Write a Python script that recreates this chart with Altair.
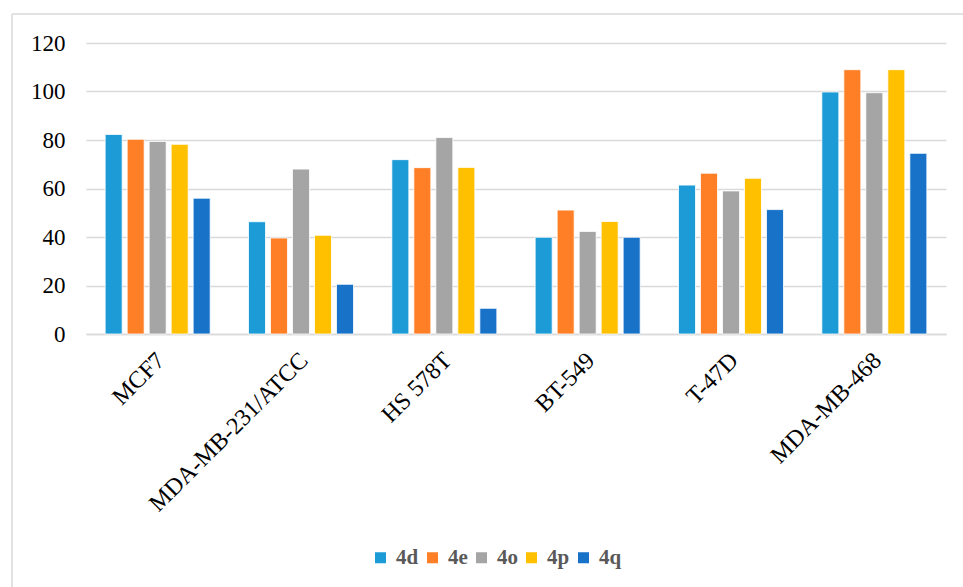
import altair as alt
import pandas as pd

# Cell lines and compounds
cell_lines = ["MCF7", "MDA-MB-231/ATCC", "HS 578T", "BT-549", "T-47D", "MDA-MB-468"]
compounds = ["4d", "4e", "4o", "4p", "4q"]
colors = ["#1C9BD7", "#FF7F27", "#A5A5A5", "#FFC000", "#1772C8"]

# Values per compound, in cell-line order
v_4d = [82.3, 46.3, 71.9, 39.9, 61.4, 99.8]
v_4e = [80.3, 39.6, 68.6, 51.1, 66.3, 109.0]
v_4o = [79.4, 68.0, 81.0, 42.3, 59.0, 99.5]
v_4p = [78.2, 40.7, 68.7, 46.4, 64.2, 109.0]
v_4q = [56.0, 20.5, 10.6, 39.9, 51.3, 74.5]

series = {"4d": v_4d, "4e": v_4e, "4o": v_4o, "4p": v_4p, "4q": v_4q}
rows = []
for comp, vals in series.items():
    for line, v in zip(cell_lines, vals):
        rows.append({"cell": line, "compound": comp, "value": v})
df = pd.DataFrame(rows)

FONT = "Liberation Serif"
GRID = "#D9D9D9"

bars = alt.Chart(df).mark_bar(stroke="white", strokeWidth=0.8).encode(
    x=alt.X(
        "cell:N",
        sort=cell_lines,
        title=None,
        scale=alt.Scale(paddingInner=0.2326, paddingOuter=0.1163),
        axis=alt.Axis(
            labelAngle=-45,
            labelFont=FONT,
            labelFontSize=24,
            labelColor="#000000",
            labelPadding=14,
            labelOffset=-5,
            labelLimit=400,
            ticks=False,
            domain=True,
            domainColor=GRID,
            domainWidth=1.5,
            grid=False,
        ),
    ),
    xOffset=alt.XOffset(
        "compound:N",
        sort=compounds,
        scale=alt.Scale(paddingInner=0.227, paddingOuter=0.1135),
    ),
    y=alt.Y(
        "value:Q",
        title=None,
        scale=alt.Scale(domain=[0, 120], nice=False),
        axis=alt.Axis(
            values=[0, 20, 40, 60, 80, 100, 120],
            labelFont=FONT,
            labelFontSize=23,
            labelColor="#000000",
            labelPadding=21,
            ticks=False,
            tickSize=0,
            domain=False,
            gridColor=GRID,
            gridWidth=1.5,
        ),
    ),
    color=alt.Color(
        "compound:N",
        sort=compounds,
        scale=alt.Scale(domain=compounds, range=colors),
        legend=alt.Legend(
            title=None,
            orient="none",
            direction="horizontal",
            legendX=284,
            legendY=504,
            symbolType="square",
            symbolSize=121,
            symbolStrokeWidth=0,
            labelFont=FONT,
            labelFontSize=21,
            labelFontWeight="bold",
            labelColor="#595959",
            labelOffset=5,
            columnPadding=3,
        ),
    ),
)

# Chart frame lines along the left and top edges
frame_df = pd.DataFrame({"k": [0]})
frame_left = alt.Chart(frame_df).mark_rule(color=GRID, strokeWidth=1.5).encode(
    x=alt.value(-74), y=alt.value(-29), y2=alt.value(700)
)
frame_top = alt.Chart(frame_df).mark_rule(color=GRID, strokeWidth=1.5).encode(
    x=alt.value(-74), x2=alt.value(1000), y=alt.value(-29)
)

chart = (
    alt.layer(frame_left, frame_top, bars)
    .properties(
        width=860,
        height=291,
        autosize=alt.AutoSizeParams(type="none"),
        padding={"left": 86, "top": 43, "right": 17, "bottom": 253},
        background="white",
    )
    .configure_view(stroke=None)
)

chart.save("out.html", embed_options={"renderer": "svg", "actions": False})
